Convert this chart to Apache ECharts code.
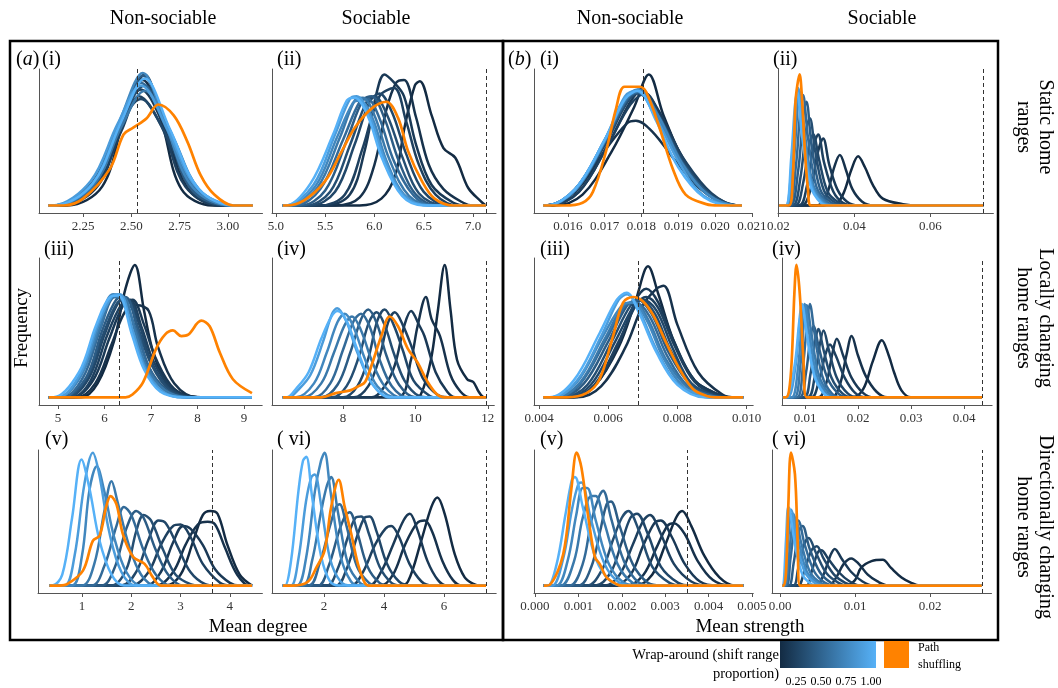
<!DOCTYPE html>
<html>
<head>
<meta charset="utf-8">
<script src="https://cdn.jsdelivr.net/npm/echarts@6/dist/echarts.min.js"></script>
<style>html,body{margin:0;padding:0;background:#fff}#main{width:1058px;height:688px}</style>
</head>
<body>
<div id="main"></div>
<script>
// shift range proportion of each wrap-around curve (one curve per value, dark -> light)
const shifts = [0.05, 0.1, 0.15, 0.2, 0.25, 0.3, 0.4, 0.5, 0.6, 0.7, 0.85, 1.0];

// ---- (a) mean degree ----
const wrap_aI = [
  [[2.17,0],[2.35,14],[2.46,62],[2.57,96],[2.66,60],[2.76,12],[2.92,0]],
  [[2.14,0],[2.33,15],[2.45,60],[2.56,92],[2.67,58],[2.79,13],[2.95,0]],
  [[2.12,0],[2.31,16],[2.44,58],[2.55,85],[2.68,55],[2.80,14],[2.97,0]],
  [[2.13,0],[2.32,15],[2.45,55],[2.54,80],[2.66,57],[2.78,14],[2.96,0]],
  [[2.11,0],[2.30,17],[2.43,56],[2.55,78],[2.68,52],[2.82,12],[3.00,0]],
  [[2.10,0],[2.30,16],[2.44,60],[2.57,88],[2.70,55],[2.84,11],[3.01,0]],
  [[2.12,0],[2.31,15],[2.45,63],[2.56,95],[2.68,60],[2.81,12],[3.00,0]],
  [[2.10,0],[2.30,17],[2.44,60],[2.55,90],[2.69,54],[2.83,13],[3.02,0]],
  [[2.11,0],[2.31,16],[2.45,58],[2.57,84],[2.71,52],[2.85,12],[3.03,0]],
  [[2.10,0],[2.30,16],[2.44,62],[2.56,97],[2.68,58],[2.82,13],[3.02,0]],
  [[2.09,0],[2.29,18],[2.43,60],[2.55,88],[2.69,55],[2.84,13],[3.05,0]],
  [[2.10,0],[2.30,16],[2.45,62],[2.57,93],[2.70,56],[2.85,12],[3.04,0]]
];
const path_aI = [[2.15,0],[2.25,5],[2.39,27],[2.46,52],[2.51,57],[2.58,64],[2.64,74],[2.72,66],[2.79,47],[2.86,22],[2.93,8],[3.03,0]];

const wrap_aII = [
  [[5.85,0],[6.07,5],[6.21,22],[6.31,59],[6.41,88],[6.46,91],[6.58,66],[6.70,42],[6.82,35],[6.95,13],[7.08,3],[7.13,0]],
  [[5.6,0],[5.85,6],[6.0,30],[6.12,70],[6.22,90],[6.3,92],[6.42,65],[6.55,30],[6.7,12],[6.9,2],[7.0,0]],
  [[5.5,0],[5.75,8],[5.9,40],[6.02,82],[6.1,96],[6.2,90],[6.3,80],[6.42,45],[6.58,15],[6.8,2],[6.95,0]],
  [[5.45,0],[5.7,8],[5.88,42],[6.05,80],[6.2,86],[6.32,62],[6.45,30],[6.62,8],[6.85,0]],
  [[5.35,0],[5.6,10],[5.8,45],[5.95,76],[6.05,82],[6.18,68],[6.32,38],[6.5,10],[6.75,0]],
  [[5.3,0],[5.55,10],[5.75,44],[5.92,76],[6.0,80],[6.13,66],[6.28,36],[6.45,9],[6.7,0]],
  [[5.25,0],[5.5,11],[5.72,48],[5.88,77],[5.97,80],[6.1,64],[6.25,32],[6.42,8],[6.65,0]],
  [[5.2,0],[5.45,12],[5.68,48],[5.85,76],[5.93,78],[6.05,64],[6.2,32],[6.4,7],[6.6,0]],
  [[5.15,0],[5.42,13],[5.65,50],[5.8,77],[5.88,79],[6.0,66],[6.15,34],[6.35,7],[6.6,0]],
  [[5.12,0],[5.4,14],[5.62,50],[5.78,75],[5.85,77],[5.98,64],[6.12,33],[6.3,8],[6.55,0]],
  [[5.1,0],[5.38,15],[5.6,52],[5.75,78],[5.82,80],[5.95,66],[6.1,34],[6.3,7],[6.55,0]],
  [[5.1,0],[5.35,16],[5.58,52],[5.72,77],[5.8,79],[5.93,66],[6.08,34],[6.28,7],[6.5,0]]
];
const path_aII = [[5.1,0],[5.29,4],[5.5,18],[5.67,40],[5.8,57],[5.97,71],[6.12,76],[6.24,64],[6.34,40],[6.48,18],[6.61,5],[6.8,0]];

const wrap_aIII = [
  [[5.5,0],[5.85,10],[6.2,40],[6.45,78],[6.65,95],[6.85,62],[7.05,32],[7.35,10],[7.8,1],[8.2,0]],
  [[5.4,0],[5.8,10],[6.15,38],[6.45,62],[6.7,66],[6.95,62],[7.15,36],[7.5,10],[8.0,0]],
  [[5.3,0],[5.75,12],[6.1,42],[6.4,66],[6.6,70],[6.85,52],[7.1,28],[7.5,6],[8.0,0]],
  [[5.3,0],[5.7,12],[6.05,44],[6.35,66],[6.55,70],[6.8,50],[7.05,26],[7.45,6],[7.9,0]],
  [[5.2,0],[5.65,13],[6.0,45],[6.3,68],[6.5,70],[6.75,52],[7.0,26],[7.4,6],[7.9,0]],
  [[5.2,0],[5.62,14],[5.98,46],[6.28,68],[6.48,70],[6.72,50],[7.0,24],[7.4,5],[7.9,0]],
  [[5.1,0],[5.6,14],[5.95,48],[6.25,70],[6.45,72],[6.7,50],[6.95,22],[7.35,5],[7.8,0]],
  [[5.1,0],[5.55,15],[5.92,50],[6.22,72],[6.42,70],[6.68,48],[6.95,22],[7.3,5],[7.8,0]],
  [[5.0,0],[5.5,16],[5.9,50],[6.2,72],[6.4,72],[6.65,48],[6.9,22],[7.3,5],[7.8,0]],
  [[5.0,0],[5.5,16],[5.88,52],[6.18,74],[6.36,72],[6.62,46],[6.9,20],[7.25,4],[7.7,0]],
  [[5.0,0],[5.48,17],[5.85,52],[6.15,72],[6.33,74],[6.6,48],[6.88,20],[7.25,4],[7.7,0]],
  [[4.9,0],[5.45,18],[5.82,52],[6.12,72],[6.3,73],[6.58,46],[6.85,20],[7.2,4],[7.7,0]]
];
const path_aIII = [[6.45,0],[6.6,2],[6.83,11],[7.11,35],[7.3,45],[7.47,48],[7.65,44],[7.8,45],[8.08,55],[8.26,51],[8.48,32],[8.76,13],[9.17,3]];

const wrap_aIV = [
  [[9.95,0],[10.15,2],[10.43,27],[10.62,62],[10.81,95],[10.97,63],[11.15,27],[11.43,13],[11.6,11],[11.75,4],[11.9,0]],
  [[9.5,0],[9.88,27],[10.06,51],[10.29,72],[10.45,56],[10.68,44],[10.97,16],[11.25,4],[11.5,0]],
  [[8.8,0],[9.15,8],[9.43,23],[9.7,52],[9.88,62],[10.1,52],[10.25,44],[10.56,18],[10.88,4],[11.1,0]],
  [[8.3,0],[8.7,8],[9.0,28],[9.25,54],[9.43,61],[9.65,52],[9.9,36],[10.2,14],[10.6,2],[10.9,0]],
  [[8.0,0],[8.4,8],[8.7,28],[8.95,55],[9.15,63],[9.4,52],[9.65,34],[9.95,12],[10.4,1],[10.6,0]],
  [[7.7,0],[8.1,8],[8.45,30],[8.72,54],[8.93,61],[9.15,52],[9.4,32],[9.7,12],[10.1,1],[10.4,0]],
  [[7.4,0],[7.85,9],[8.2,32],[8.5,56],[8.7,63],[8.95,52],[9.2,30],[9.55,9],[10.0,0]],
  [[7.2,0],[7.65,10],[8.0,34],[8.3,55],[8.5,60],[8.75,50],[9.0,28],[9.35,8],[9.8,0]],
  [[6.9,0],[7.4,10],[7.75,32],[8.05,52],[8.25,58],[8.5,48],[8.8,26],[9.15,8],[9.6,0]],
  [[6.7,0],[7.2,10],[7.55,32],[7.85,54],[8.05,60],[8.3,50],[8.6,28],[8.95,8],[9.5,0]],
  [[6.5,0],[6.75,5],[7.1,16],[7.45,40],[7.7,60],[7.84,64],[8.1,54],[8.4,32],[8.8,10],[9.3,0]],
  [[6.45,0],[6.7,6],[7.05,18],[7.4,42],[7.68,58],[7.85,62],[8.1,55],[8.4,34],[8.8,10],[9.3,0]]
];
const path_aIV = [[7.4,0],[7.8,3],[8.2,5],[8.43,8],[8.61,11],[8.79,23],[9.06,44],[9.29,58],[9.52,51],[9.79,35],[10.06,25],[10.34,11],[10.6,2],[10.8,0]];

const wrap_aV = [
  [[2.7,0],[3.0,8],[3.25,32],[3.45,52],[3.6,55],[3.75,53],[3.95,30],[4.2,8],[4.45,0]],
  [[2.5,0],[2.85,10],[3.1,30],[3.35,45],[3.55,47],[3.7,45],[3.9,28],[4.15,8],[4.4,0]],
  [[2.3,0],[2.6,10],[2.85,32],[3.05,44],[3.2,42],[3.45,30],[3.7,12],[4.0,2],[4.2,0]],
  [[2.0,0],[2.35,10],[2.6,30],[2.85,44],[3.0,45],[3.2,36],[3.45,16],[3.8,2],[4.0,0]],
  [[1.8,0],[2.1,10],[2.35,34],[2.55,48],[2.7,46],[2.95,28],[3.2,10],[3.5,1],[3.7,0]],
  [[1.6,0],[1.9,12],[2.1,40],[2.25,52],[2.4,48],[2.65,26],[2.9,8],[3.2,1],[3.4,0]],
  [[1.4,0],[1.65,12],[1.9,42],[2.1,55],[2.25,50],[2.5,26],[2.75,8],[3.05,0]],
  [[1.2,0],[1.45,14],[1.7,44],[1.85,58],[2.0,52],[2.25,26],[2.5,8],[2.8,0]],
  [[1.0,0],[1.25,16],[1.45,54],[1.6,77],[1.72,62],[1.95,30],[2.2,8],[2.5,0]],
  [[0.8,0],[1.0,22],[1.15,70],[1.3,88],[1.45,70],[1.65,36],[1.9,10],[2.2,0]],
  [[0.65,0],[0.85,22],[1.05,75],[1.22,98],[1.35,82],[1.55,40],[1.8,10],[2.1,0]],
  [[0.4,0],[0.6,8],[0.8,50],[0.99,93],[1.15,72],[1.35,34],[1.6,8],[1.85,0]]
];
const path_aV = [[0.55,0],[0.7,1],[1.02,11],[1.22,33],[1.36,37],[1.49,58],[1.58,66],[1.7,60],[1.83,38],[2.04,21],[2.27,16],[2.44,6],[2.6,0]];

const wrap_aVI = [
  [[4.5,0],[4.8,3],[5.24,33],[5.58,58],[5.78,65],[6.02,53],[6.36,23],[6.69,6],[7.0,1],[7.2,0]],
  [[3.9,0],[4.3,8],[4.7,30],[5.1,46],[5.36,48],[5.6,40],[5.95,18],[6.3,4],[6.6,0]],
  [[3.5,0],[3.9,10],[4.3,30],[4.65,48],[4.86,53],[5.1,42],[5.45,18],[5.8,4],[6.1,0]],
  [[2.9,0],[3.3,10],[3.7,30],[4.05,42],[4.24,44],[4.5,36],[4.85,16],[5.25,3],[5.6,0]],
  [[2.4,0],[2.75,12],[3.1,36],[3.35,50],[3.52,51],[3.75,40],[4.1,16],[4.5,3],[4.9,0]],
  [[2.1,0],[2.45,12],[2.8,36],[3.05,50],[3.24,51],[3.5,38],[3.85,14],[4.25,2],[4.6,0]],
  [[1.8,0],[2.15,14],[2.5,40],[2.72,52],[2.86,54],[3.1,40],[3.45,14],[3.85,2],[4.2,0]],
  [[1.5,0],[1.85,16],[2.2,44],[2.4,58],[2.52,60],[2.75,44],[3.1,14],[3.5,2],[3.8,0]],
  [[1.3,0],[1.6,18],[1.9,54],[2.1,74],[2.24,80],[2.45,56],[2.8,16],[3.2,2],[3.5,0]],
  [[1.1,0],[1.4,20],[1.7,70],[1.9,92],[2.02,98],[2.2,72],[2.55,22],[2.9,3],[3.2,0]],
  [[0.9,0],[1.15,20],[1.4,62],[1.58,80],[1.69,82],[1.9,60],[2.2,20],[2.55,3],[2.9,0]],
  [[0.7,0],[0.9,18],[1.15,70],[1.3,92],[1.41,95],[1.6,66],[1.9,22],[2.2,3],[2.5,0]]
];
const path_aVI = [[1.0,0],[1.47,3],[1.74,13],[2.02,26],[2.24,58],[2.49,78],[2.69,58],[2.91,38],[3.13,16],[3.36,2],[3.5,0]];

// ---- (b) mean strength ----
const wrap_bI = [
  [[0.0156,0],[0.0164,8],[0.0172,40],[0.0178,72],[0.0182,96],[0.0186,66],[0.0192,30],[0.0199,8],[0.0205,0]],
  [[0.0154,0],[0.0162,10],[0.0170,40],[0.0176,60],[0.01785,62],[0.0183,54],[0.0190,30],[0.0197,10],[0.0206,0]],
  [[0.0155,0],[0.0163,10],[0.0171,45],[0.0177,76],[0.0180,84],[0.0185,68],[0.0191,36],[0.0198,10],[0.0206,0]],
  [[0.0155,0],[0.0163,10],[0.0171,45],[0.0177,74],[0.0181,82],[0.0186,60],[0.0192,32],[0.0199,9],[0.0206,0]],
  [[0.0154,0],[0.0162,11],[0.0170,44],[0.0176,75],[0.01795,84],[0.0185,64],[0.0192,30],[0.0199,8],[0.0207,0]],
  [[0.0154,0],[0.0162,12],[0.0170,46],[0.0176,76],[0.0179,82],[0.01845,66],[0.0191,32],[0.0198,8],[0.0206,0]],
  [[0.0154,0],[0.0162,11],[0.0170,46],[0.0176,77],[0.01795,85],[0.0185,64],[0.01915,30],[0.0199,7],[0.0207,0]],
  [[0.0154,0],[0.0162,12],[0.0170,47],[0.0176,78],[0.0179,83],[0.01845,64],[0.0191,30],[0.0198,8],[0.0206,0]],
  [[0.0154,0],[0.0162,12],[0.0170,48],[0.0176,79],[0.01795,84],[0.0185,62],[0.0191,30],[0.0198,8],[0.0206,0]],
  [[0.0154,0],[0.0162,11],[0.0170,47],[0.01755,78],[0.0179,85],[0.01845,66],[0.0191,31],[0.0198,8],[0.0206,0]],
  [[0.0154,0],[0.0162,12],[0.0170,48],[0.01755,80],[0.01785,84],[0.0184,64],[0.01905,30],[0.0197,7],[0.0206,0]],
  [[0.0154,0],[0.0162,12],[0.0170,48],[0.01755,78],[0.0179,84],[0.0184,62],[0.0190,28],[0.0197,6],[0.0205,0]]
];
const path_bI = [[0.0159,0],[0.0164,2],[0.01668,10],[0.01704,40],[0.01731,71],[0.01754,87],[0.01795,87],[0.01813,83],[0.01849,57],[0.01885,27],[0.0192,8],[0.01976,1],[0.0201,0]];

const wrap_bII = [
  [[0.0345,0],[0.0370,8],[0.0392,26],[0.0410,36],[0.0428,28],[0.0449,15],[0.0475,5],[0.0528,1],[0.0570,0]],
  [[0.0300,0],[0.0325,6],[0.0347,28],[0.0362,37],[0.0378,26],[0.0395,12],[0.0420,3],[0.0450,0]],
  [[0.0262,0],[0.0285,12],[0.0305,40],[0.0318,49],[0.0334,30],[0.0355,12],[0.0380,3],[0.0410,0]],
  [[0.0255,0],[0.0275,14],[0.0293,44],[0.0305,52],[0.0320,32],[0.0345,10],[0.0370,2],[0.0400,0]],
  [[0.0245,0],[0.0265,16],[0.0282,45],[0.0292,52],[0.0307,34],[0.0330,10],[0.0360,2],[0.0390,0]],
  [[0.0238,0],[0.0258,20],[0.0273,55],[0.0283,64],[0.0297,40],[0.0320,11],[0.0350,2],[0.0380,0]],
  [[0.0232,0],[0.0252,25],[0.0266,66],[0.0274,76],[0.0287,46],[0.0310,12],[0.0340,2],[0.0370,0]],
  [[0.0228,0],[0.0246,28],[0.0258,70],[0.0265,81],[0.0278,50],[0.0300,14],[0.0330,2],[0.0360,0]],
  [[0.0224,0],[0.0240,30],[0.0251,72],[0.0257,83],[0.0270,52],[0.0292,15],[0.0325,2],[0.0350,0]],
  [[0.0222,0],[0.0238,32],[0.0249,74],[0.0255,84],[0.0268,52],[0.0290,15],[0.0320,2],[0.0345,0]],
  [[0.0220,0],[0.0236,34],[0.0247,76],[0.0252,86],[0.0265,54],[0.0288,14],[0.0315,2],[0.0340,0]],
  [[0.0220,0],[0.0234,35],[0.0244,74],[0.0250,83],[0.0262,52],[0.0285,14],[0.0312,2],[0.0335,0]]
];
const path_bII = [[0.0228,0],[0.0238,20],[0.0245,75],[0.0250,88],[0.0256,96],[0.0262,80],[0.0270,40],[0.0278,12],[0.0286,0]];

const wrap_bIII = [
  [[0.0050,0],[0.0056,8],[0.0063,36],[0.0068,70],[0.00715,94],[0.00745,74],[0.0079,40],[0.0085,12],[0.0092,2],[0.0096,0]],
  [[0.0051,0],[0.0058,8],[0.0065,36],[0.0070,66],[0.0074,78],[0.0076,80],[0.0080,52],[0.0086,18],[0.0093,2],[0.0097,0]],
  [[0.0049,0],[0.0056,8],[0.0063,38],[0.0068,70],[0.0071,78],[0.00745,68],[0.0079,40],[0.0085,12],[0.0092,2],[0.0096,0]],
  [[0.0049,0],[0.0056,9],[0.0063,40],[0.0068,66],[0.0071,72],[0.00745,64],[0.0079,38],[0.0085,11],[0.0092,1],[0.0096,0]],
  [[0.0048,0],[0.0055,9],[0.0062,40],[0.00675,66],[0.0070,70],[0.0074,62],[0.00785,36],[0.0084,10],[0.0091,1],[0.0095,0]],
  [[0.0047,0],[0.0054,9],[0.0061,40],[0.00665,66],[0.00695,70],[0.00735,60],[0.0078,34],[0.0084,10],[0.0091,1],[0.0095,0]],
  [[0.0046,0],[0.0053,10],[0.0060,40],[0.00655,66],[0.00685,70],[0.00725,60],[0.00775,32],[0.0084,8],[0.0090,1],[0.0094,0]],
  [[0.0045,0],[0.0052,10],[0.00595,42],[0.0065,66],[0.0068,68],[0.0072,58],[0.0077,30],[0.0083,8],[0.0090,1],[0.0094,0]],
  [[0.0045,0],[0.0052,11],[0.0059,42],[0.00645,66],[0.00675,68],[0.00715,56],[0.00765,28],[0.0083,7],[0.0089,0]],
  [[0.0044,0],[0.0051,11],[0.00585,44],[0.0064,66],[0.0067,68],[0.0071,56],[0.0076,28],[0.0082,7],[0.0089,0]],
  [[0.0044,0],[0.0051,12],[0.0058,44],[0.0063,70],[0.00655,74],[0.0069,62],[0.0074,34],[0.0080,10],[0.0088,1],[0.0093,0]],
  [[0.0043,0],[0.0050,12],[0.00575,46],[0.00625,70],[0.00653,75],[0.0069,60],[0.0074,32],[0.0080,9],[0.0088,0]]
];
const path_bIII = [[0.0048,0],[0.00537,3],[0.00575,13],[0.00614,44],[0.00643,68],[0.00672,72],[0.0070,69],[0.0073,59],[0.00768,39],[0.00807,20],[0.00845,6],[0.00884,1],[0.0091,0]];

const wrap_bIV = [
  [[0.0190,0],[0.0210,6],[0.0228,26],[0.0245,41],[0.0258,30],[0.0268,18],[0.0282,5],[0.0300,0]],
  [[0.0150,0],[0.0165,8],[0.0178,30],[0.0188,44],[0.0200,30],[0.0215,15],[0.0235,4],[0.0255,0]],
  [[0.0125,0],[0.0140,10],[0.0152,32],[0.0160,42],[0.0172,30],[0.0188,14],[0.0210,3],[0.0230,0]],
  [[0.0112,0],[0.0125,10],[0.0138,30],[0.0147,38],[0.0158,30],[0.0175,14],[0.0195,3],[0.0215,0]],
  [[0.0105,0],[0.0118,14],[0.0128,38],[0.0135,48],[0.0145,34],[0.0160,14],[0.0180,3],[0.0200,0]],
  [[0.0098,0],[0.0110,16],[0.0119,40],[0.0125,49],[0.0135,34],[0.0150,14],[0.0170,3],[0.0190,0]],
  [[0.0090,0],[0.0102,18],[0.0110,42],[0.0116,51],[0.0126,36],[0.0142,14],[0.0162,3],[0.0180,0]],
  [[0.0085,0],[0.0096,22],[0.0104,54],[0.0109,67],[0.0118,46],[0.0132,16],[0.0150,3],[0.0168,0]],
  [[0.0080,0],[0.0091,22],[0.0098,54],[0.0103,66],[0.0112,46],[0.0126,16],[0.0145,3],[0.0160,0]],
  [[0.0075,0],[0.0087,22],[0.0094,54],[0.0099,67],[0.0108,46],[0.0122,16],[0.0140,3],[0.0155,0]],
  [[0.0068,0],[0.0082,22],[0.0090,54],[0.0095,66],[0.0104,46],[0.0118,16],[0.0136,3],[0.0150,0]],
  [[0.0064,0],[0.0080,22],[0.0089,54],[0.0094,67],[0.0103,46],[0.0117,16],[0.0135,3],[0.0150,0]]
];
const path_bIV = [[0.0064,0],[0.0070,5],[0.0075,27],[0.0080,75],[0.0084,95],[0.0090,75],[0.0097,27],[0.0103,0]];

const wrap_bV = [
  [[0.0023,0],[0.0027,8],[0.0030,30],[0.00325,50],[0.00339,55],[0.0036,44],[0.0039,22],[0.00425,6],[0.0046,0]],
  [[0.0021,0],[0.0025,8],[0.0028,28],[0.00305,44],[0.0032,46],[0.00345,38],[0.00375,18],[0.0041,4],[0.0045,0]],
  [[0.0018,0],[0.0022,8],[0.0025,30],[0.00275,46],[0.0029,48],[0.00315,36],[0.00345,16],[0.0038,3],[0.0042,0]],
  [[0.0016,0],[0.00195,8],[0.00225,30],[0.0025,48],[0.00265,52],[0.0029,38],[0.0032,16],[0.0036,3],[0.0040,0]],
  [[0.0014,0],[0.00175,10],[0.0020,32],[0.0022,50],[0.00235,53],[0.0026,38],[0.0029,14],[0.0033,2],[0.0036,0]],
  [[0.0012,0],[0.00155,12],[0.0018,34],[0.0020,50],[0.00215,55],[0.0024,40],[0.0027,14],[0.0031,2],[0.0034,0]],
  [[0.0010,0],[0.0013,14],[0.0015,40],[0.00165,60],[0.00175,62],[0.00195,44],[0.00225,16],[0.0026,2],[0.0029,0]],
  [[0.0008,0],[0.0011,16],[0.0013,48],[0.00148,66],[0.00157,70],[0.00175,50],[0.00205,18],[0.0024,2],[0.0027,0]],
  [[0.0006,0],[0.0009,18],[0.0011,50],[0.0013,66],[0.0014,66],[0.0016,46],[0.0019,16],[0.00225,2],[0.0026,0]],
  [[0.0005,0],[0.00075,18],[0.00095,52],[0.0011,72],[0.0012,72],[0.0014,48],[0.0017,16],[0.00205,2],[0.0024,0]],
  [[0.0004,0],[0.00065,20],[0.00085,56],[0.0010,75],[0.00107,76],[0.00128,50],[0.0016,16],[0.00195,2],[0.0023,0]],
  [[0.0003,0],[0.0005,16],[0.0007,52],[0.00085,78],[0.00092,80],[0.0011,58],[0.0014,20],[0.00175,3],[0.0021,0]]
];
const path_bV = [[0.00025,0],[0.00034,0.5],[0.00065,23],[0.00084,72],[0.00096,98],[0.00107,87],[0.00123,50],[0.00138,21],[0.00149,16],[0.00165,6],[0.00188,1],[0.0020,0]];

const wrap_bVI = [
  [[0.0088,0],[0.0100,4],[0.0108,13],[0.0122,18],[0.0137,19],[0.0148,13],[0.0162,6],[0.0175,2],[0.0186,0]],
  [[0.0065,0],[0.0075,6],[0.0085,16],[0.0095,20],[0.0105,16],[0.0117,8],[0.0130,3],[0.0145,0]],
  [[0.0048,0],[0.0058,8],[0.0067,22],[0.0073,27],[0.0082,20],[0.0095,10],[0.0110,3],[0.0125,0]],
  [[0.0035,0],[0.0042,10],[0.0050,24],[0.0055,26],[0.0064,20],[0.0078,10],[0.0093,3],[0.0108,0]],
  [[0.0024,0],[0.0032,10],[0.0042,26],[0.0049,29],[0.0058,20],[0.0072,8],[0.0087,2],[0.0100,0]],
  [[0.0018,0],[0.0024,12],[0.0032,30],[0.0038,35],[0.0048,24],[0.0062,9],[0.0078,2],[0.0090,0]],
  [[0.0012,0],[0.0018,16],[0.0025,40],[0.0030,44],[0.0039,28],[0.0053,10],[0.0068,2],[0.0080,0]],
  [[0.0009,0],[0.0014,20],[0.0020,45],[0.0024,48],[0.0033,30],[0.0046,10],[0.0060,2],[0.0072,0]],
  [[0.0007,0],[0.0012,22],[0.0017,48],[0.0020,50],[0.0028,32],[0.0040,10],[0.0054,2],[0.0066,0]],
  [[0.0006,0],[0.0010,26],[0.0014,52],[0.0017,53],[0.0025,32],[0.0036,10],[0.0050,2],[0.0060,0]],
  [[0.0005,0],[0.0009,30],[0.0012,55],[0.00145,56],[0.0022,32],[0.0033,10],[0.0046,2],[0.0055,0]],
  [[0.0004,0],[0.0008,34],[0.0011,58],[0.0013,56],[0.0020,30],[0.0030,8],[0.0042,1],[0.0050,0]]
];
const path_bVI = [[0.0005,0],[0.0008,10],[0.0011,58],[0.00146,98],[0.00199,82],[0.00235,33],[0.00265,0]];

// panels in reading order: a(i) a(ii) b(i) b(ii) / a(iii) a(iv) b(iii) b(iv) / a(v) a(vi) b(v) b(vi)
const wrapCurves = [wrap_aI, wrap_aII, wrap_bI, wrap_bII, wrap_aIII, wrap_aIV, wrap_bIII, wrap_bIV, wrap_aV, wrap_aVI, wrap_bV, wrap_bVI];
const pathCurves = [path_aI, path_aII, path_bI, path_bII, path_aIII, path_aIV, path_bIII, path_bIV, path_aV, path_aVI, path_bV, path_bVI];
const observed = [2.533, 7.13, 0.01804, 0.0739, 6.31, 11.96, 0.00688, 0.0434, 3.65, 7.4, 0.0035, 0.0269];
const dataRange = [[2.07,3.13],[5.07,7.13],[0.01533,0.02073],[0.0202,0.0739],[4.8,9.17],[6.34,11.96],[0.00412,0.0099],[0.0058,0.0434],[0.34,4.45],[0.63,7.4],[0.0002,0.0048],[0.0003,0.0269]];
const tickValues = [
  [2.25,2.5,2.75,3], [5,5.5,6,6.5,7], [0.016,0.017,0.018,0.019,0.02,0.021], [0.02,0.04,0.06],
  [5,6,7,8,9], [8,10,12], [0.004,0.006,0.008,0.01], [0.01,0.02,0.03,0.04],
  [1,2,3,4], [2,4,6], [0,0.001,0.002,0.003,0.004,0.005], [0,0.01,0.02]
];
const tickDecimals = [2,1,3,2, 0,0,3,2, 0,0,3,2];
const panelTags = ['(i)','(ii)','(i)','(ii)','(iii)','(iv)','(iii)','(iv)','(v)','( vi)','(v)','( vi)'];
const legendTicks = [0.25, 0.5, 0.75, 1.0];

// ---- layout ----
const rows = [{top: 69, height: 144}, {top: 258, height: 147}, {top: 450, height: 143}];
const cols = [
  [{left:39, width:223.5, min:2.022, max:3.18}, {left:272, width:224, min:4.96, max:7.233}, {left:534, width:218.6, min:0.01508, max:0.02102}, {left:778, width:215.4, min:0.01992, max:0.0766}],
  [{left:39, width:223.2, min:4.59, max:9.39}, {left:272, width:222.3, min:6.04, max:12.18}, {left:534, width:219.2, min:0.003855, max:0.01019}, {left:782, width:210.1, min:0.00566, max:0.0453}],
  [{left:38, width:224.4, min:0.108, max:4.66}, {left:272, width:224.2, min:0.267, max:7.74}, {left:534, width:219.3, min:-0.000023, max:0.00503}, {left:772, width:219.5, min:-0.00107, max:0.0282}]
];
const serif = "'Liberation Serif', 'DejaVu Serif', serif";
const lowCol = [19, 43, 67], highCol = [86, 177, 247];
const pathColor = '#FF8200';

function shiftColor(s) {
  const t = (s - 0.05) / 0.95;
  return 'rgb(' + lowCol.map((c, i) => Math.round(c + (highCol[i] - c) * t)).join(',') + ')';
}
function withEnds(pts, lo, hi) {
  const out = pts.slice();
  if (out[0][0] > lo) out.unshift([lo, 0]);
  if (out[out.length - 1][0] < hi) out.push([hi, 0]);
  return out;
}

let myChart = echarts.init(document.getElementById('main'));

const grid = [], xAxis = [], yAxis = [], series = [];
for (let p = 0; p < 12; p++) {
  const r = Math.floor(p / 4), c = cols[r][p % 4];
  grid.push({left: c.left, top: rows[r].top, width: c.width, height: rows[r].height});
  const dec = tickDecimals[p];
  xAxis.push({
    type: 'value', gridIndex: p, min: c.min, max: c.max,
    axisLine: {onZero: false, lineStyle: {color: '#555', width: 1}},
    axisTick: {customValues: tickValues[p], length: 4, lineStyle: {color: '#555'}},
    axisLabel: {customValues: tickValues[p], formatter: v => v.toFixed(dec), fontFamily: serif, fontSize: 13, color: '#333', margin: 7},
    splitLine: {show: false}
  });
  yAxis.push({
    type: 'value', gridIndex: p, min: -5.5, max: 100,
    axisLine: {show: true, onZero: false, lineStyle: {color: '#555', width: 1}},
    axisTick: {show: false}, axisLabel: {show: false}, splitLine: {show: false}
  });
  const [lo, hi] = dataRange[p];
  wrapCurves[p].forEach((pts, k) => {
    series.push({
      type: 'line', xAxisIndex: p, yAxisIndex: p, data: withEnds(pts, lo, hi),
      smooth: 0.35, showSymbol: false, silent: true,
      lineStyle: {width: 2.5, color: shiftColor(shifts[k])}
    });
  });
  series.push({
    type: 'line', xAxisIndex: p, yAxisIndex: p, data: withEnds(pathCurves[p], lo, hi),
    smooth: 0.35, showSymbol: false, silent: true,
    lineStyle: {width: 2.7, color: pathColor},
    markLine: {
      silent: true, precision: 8, symbol: ['none', 'none'], label: {show: false},
      lineStyle: {type: [4, 3], color: '#333', width: 1},
      data: [{xAxis: observed[p]}]
    }
  });
}

function txt(x, y, text, size, extra) {
  return {type: 'text', x: x, y: y, style: Object.assign({
    text: text, font: size + 'px ' + serif, fill: '#000',
    align: 'center', verticalAlign: 'middle', textAlign: 'center', textVerticalAlign: 'middle'
  }, extra || {})};
}
const graphics = [
  {type: 'rect', shape: {x: 10, y: 41, width: 493, height: 599}, style: {fill: 'none', stroke: '#000', lineWidth: 2.5}},
  {type: 'rect', shape: {x: 503, y: 41, width: 495, height: 599}, style: {fill: 'none', stroke: '#000', lineWidth: 2.5}},
  txt(163, 19, 'Non-sociable', 20), txt(376, 19, 'Sociable', 20),
  txt(630, 19, 'Non-sociable', 20), txt(882, 19, 'Sociable', 20),
  txt(258, 627, 'Mean degree', 19), txt(750, 627, 'Mean strength', 19),
  Object.assign(txt(22, 328, 'Frequency', 19), {rotation: Math.PI / 2}),
  Object.assign(txt(1034, 127, 'Static home\nranges', 20, {lineHeight: 22}), {rotation: -Math.PI / 2}),
  Object.assign(txt(1034, 318, 'Locally changing\nhome ranges', 20, {lineHeight: 22}), {rotation: -Math.PI / 2}),
  Object.assign(txt(1034, 527, 'Directionally changing\nhome ranges', 20, {lineHeight: 22}), {rotation: -Math.PI / 2}),
  txt(16, 60, '({it|a})', 20, {align: 'left', textAlign: 'left', rich: {it: {fontStyle: 'italic', font: 'italic 20px ' + serif}}}),
  txt(508, 60, '({it|b})', 20, {align: 'left', textAlign: 'left', rich: {it: {fontStyle: 'italic', font: 'italic 20px ' + serif}}})
];
const tagX = [[42, 277, 540, 773], [44, 277, 540, 772], [45, 277, 540, 772]];
const tagY = [60, 250, 440];
panelTags.forEach((t, p) => {
  const r = Math.floor(p / 4);
  graphics.push(txt(tagX[r][p % 4], tagY[r], t, 20, {align: 'left', textAlign: 'left'}));
});

// legend
const barX = 780, barW = 96, barY = 641, barH = 27;
graphics.push(txt(779, 655, 'Wrap-around (shift range', 14.5, {align: 'right', textAlign: 'right'}));
graphics.push(txt(779, 674, 'proportion)', 14.5, {align: 'right', textAlign: 'right'}));
graphics.push({type: 'rect', shape: {x: barX, y: barY, width: barW, height: barH}, style: {
  fill: {type: 'linear', x: 0, y: 0, x2: 1, y2: 0, colorStops: [{offset: 0, color: shiftColor(0.05)}, {offset: 1, color: shiftColor(1)}]}
}});
legendTicks.forEach(v => {
  const x = barX - 4 + (v - shifts[0]) / (shifts[shifts.length - 1] - shifts[0]) * (barW - 1);
  graphics.push(txt(x, 682, v.toFixed(2), 12));
});
graphics.push({type: 'rect', shape: {x: 884, y: barY, width: 25, height: barH}, style: {fill: pathColor}});
graphics.push(txt(918, 648, 'Path', 12, {align: 'left', textAlign: 'left'}));
graphics.push(txt(918, 665, 'shuffling', 12, {align: 'left', textAlign: 'left'}));

let option = {
  animation: false,
  backgroundColor: '#fff',
  grid: grid, xAxis: xAxis, yAxis: yAxis, series: series,
  graphic: graphics
};
myChart.setOption(option);
</script>
</body>
</html>
